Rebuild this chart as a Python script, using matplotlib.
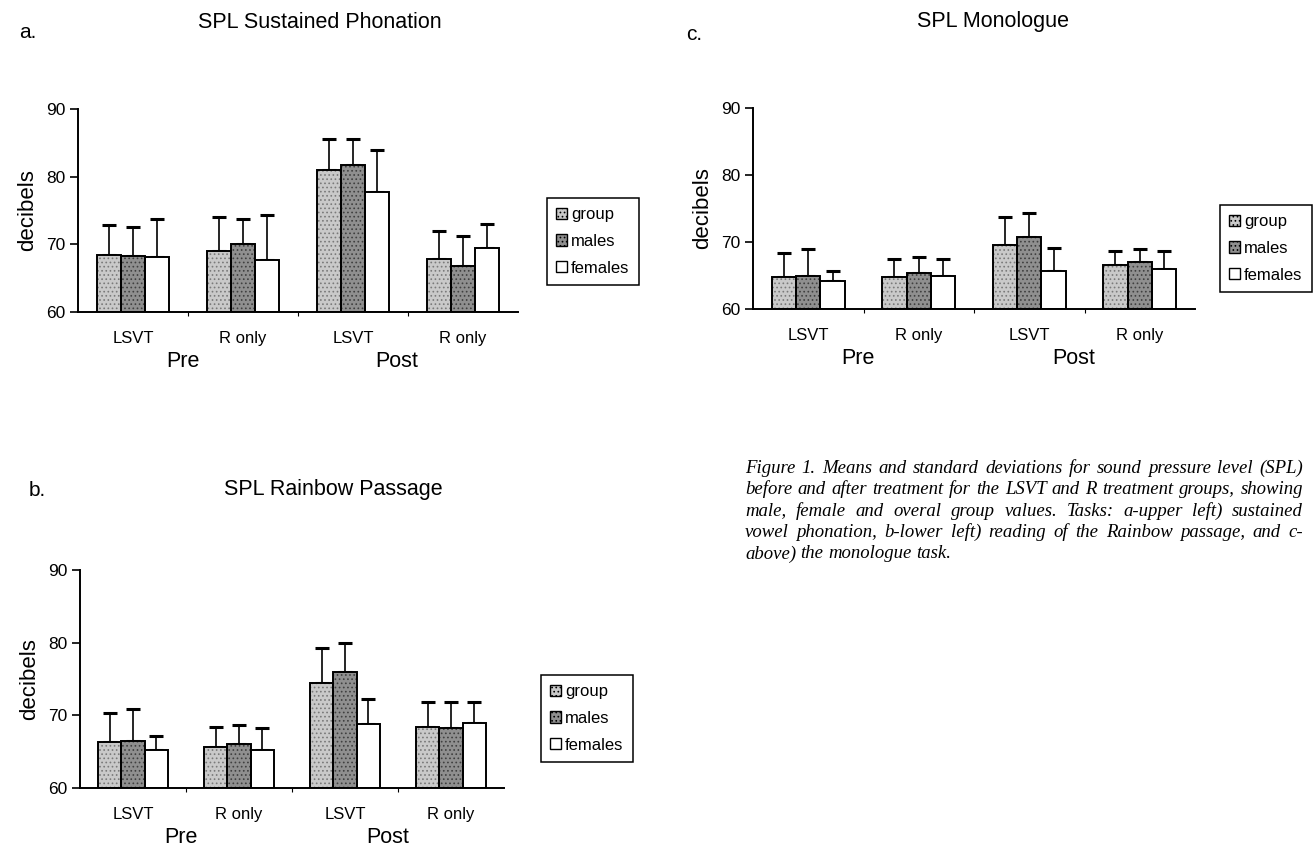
import numpy as np
import matplotlib
matplotlib.use('Agg')
import matplotlib.pyplot as plt

plt.rcParams['font.family'] = ['Liberation Sans', 'DejaVu Sans']
plt.rcParams['hatch.linewidth'] = 0.7

categories = ['LSVT', 'R only', 'LSVT', 'R only']
phases = ['Pre', 'Post']
series = ['group', 'males', 'females']

# a) sustained phonation
a_group = [68.4, 69.0, 81.0, 67.8]
a_group_sd = [4.5, 5.0, 4.5, 4.1]
a_males = [68.3, 70.0, 81.7, 66.8]
a_males_sd = [4.3, 3.8, 3.8, 4.4]
a_females = [68.1, 67.7, 77.8, 69.5]
a_females_sd = [5.6, 6.6, 6.2, 3.5]

# b) rainbow passage
b_group = [66.3, 65.7, 74.5, 68.4]
b_group_sd = [4.0, 2.7, 4.8, 3.4]
b_males = [66.5, 66.1, 75.9, 68.2]
b_males_sd = [4.4, 2.6, 4.0, 3.6]
b_females = [65.2, 65.2, 68.8, 69.0]
b_females_sd = [1.9, 3.0, 3.5, 2.8]

# c) monologue
c_group = [64.8, 64.8, 69.5, 66.6]
c_group_sd = [3.5, 2.6, 4.2, 2.1]
c_males = [65.0, 65.4, 70.7, 67.0]
c_males_sd = [3.9, 2.4, 3.6, 2.0]
c_females = [64.2, 64.9, 65.6, 65.9]
c_females_sd = [1.5, 2.5, 3.5, 2.7]

caption = [
    'Figure 1.  Means and standard deviations for sound pressure level (SPL)',
    'before and after treatment for the LSVT and R treatment groups, showing',
    'male, female and overal group values.  Tasks:  a-upper left)  sustained',
    'vowel phonation, b-lower left) reading of the Rainbow passage, and c-',
    'above) the monologue task.',
]

styles = [
    dict(color='#c9c9c9', hatch='....', hcol='#7a7a7a'),
    dict(color='#8f8f8f', hatch='....', hcol='#404040'),
    dict(color='white', hatch=None, hcol='white'),
]

W, H = 1316, 848
fig = plt.figure(figsize=(W / 100, H / 100), dpi=100)


def px(x, y):
    return x / W, 1 - y / H


def panel(box, title, letter, letter_xy, title_xy, data, legend_xy):
    l, t, r, b = box
    ax = fig.add_axes([l / W, 1 - b / H, (r - l) / W, (b - t) / H])
    x = np.arange(len(categories))
    w = 0.22
    handles = []
    for i, (vals, sd) in enumerate(data):
        st = styles[i]
        pos = x + (i - 1) * w
        ax.bar(pos, np.array(vals) - 60, w, bottom=60, color=st['color'],
               hatch=st['hatch'], edgecolor=st['hcol'], linewidth=0, zorder=2)
        ax.bar(pos, np.array(vals) - 60, w, bottom=60, fill=False,
               edgecolor='black', linewidth=1.4, zorder=3)
        ax.errorbar(pos, vals, yerr=[np.zeros(len(sd)), sd], fmt='none',
                    ecolor='black', elinewidth=1.2, capsize=5, capthick=2.2, zorder=1)
        handles.append(plt.Rectangle((0, 0), 1, 1, facecolor=st['color'],
                                     hatch=st['hatch'], edgecolor='black', linewidth=1.0))
    ax.set_ylim(60, 90)
    ax.set_xlim(-0.5, 3.5)
    ax.set_yticks([60, 70, 80, 90])
    ax.tick_params(axis='y', direction='out', length=6, width=1.2, labelsize=12.5, pad=3)
    ax.set_xticks([0.5, 1.5, 2.5])
    ax.tick_params(axis='x', direction='out', length=3, width=0.8, labelbottom=False)
    for s in ['top', 'right']:
        ax.spines[s].set_visible(False)
    ax.spines['left'].set_linewidth(1.4)
    ax.spines['bottom'].set_linewidth(1.4)
    ax.set_ylabel('decibels', fontsize=16, labelpad=6)
    for xi, lab in zip(x, categories):
        ax.annotate(lab, xy=(xi, 0), xycoords=('data', 'axes fraction'),
                    xytext=(0, -19), textcoords='offset points',
                    ha='center', va='center', fontsize=12)
    for xi, lab in zip([0.45, 2.4], phases):
        ax.annotate(lab, xy=(xi, 0), xycoords=('data', 'axes fraction'),
                    xytext=(0, -35.5), textcoords='offset points',
                    ha='center', va='center', fontsize=15.5)
    fig.text(*px(*title_xy), title, ha='center', va='center', fontsize=15.5)
    fig.text(*px(*letter_xy), letter, ha='left', va='center', fontsize=15)
    leg = fig.legend(handles, series, loc='upper left', bbox_to_anchor=px(*legend_xy),
                     fontsize=12, frameon=True, fancybox=False, framealpha=1,
                     edgecolor='black', handlelength=0.65, handleheight=0.65,
                     handletextpad=0.25, borderpad=0.55, labelspacing=0.7,
                     borderaxespad=0)
    leg.get_frame().set_linewidth(1.1)
    return ax


panel((78, 109, 518, 312), 'SPL Sustained Phonation', 'a.', (19, 33), (320, 22),
      [(a_group, a_group_sd), (a_males, a_males_sd), (a_females, a_females_sd)],
      (547, 198))

panel((80, 570, 504, 788), 'SPL Rainbow Passage', 'b.', (29, 490), (333, 490),
      [(b_group, b_group_sd), (b_males, b_males_sd), (b_females, b_females_sd)],
      (541, 675))

panel((753, 108, 1195, 309), 'SPL Monologue', 'c.', (686, 35), (993, 22),
      [(c_group, c_group_sd), (c_males, c_males_sd), (c_females, c_females_sd)],
      (1220, 205))

# justified caption, word by word
cap_left, cap_right = 745, 1303
renderer = fig.canvas.get_renderer()
cap_kw = dict(fontsize=13.5, style='italic', family='Liberation Serif', va='center', ha='left')
for i, line in enumerate(caption):
    y = 1 - (468 + i * 21.5) / H
    words = line.split()
    texts = [fig.text(0, y, wd, **cap_kw) for wd in words]
    widths = [tx.get_window_extent(renderer).width for tx in texts]
    if i < len(caption) - 1 and len(words) > 1:
        gap = (cap_right - cap_left - sum(widths)) / (len(words) - 1)
    else:
        gap = 4.5
    xcur = cap_left
    for tx, wd in zip(texts, widths):
        tx.set_x(xcur / W)
        xcur += wd + gap

fig.savefig('out.png', dpi=100, facecolor='white')
